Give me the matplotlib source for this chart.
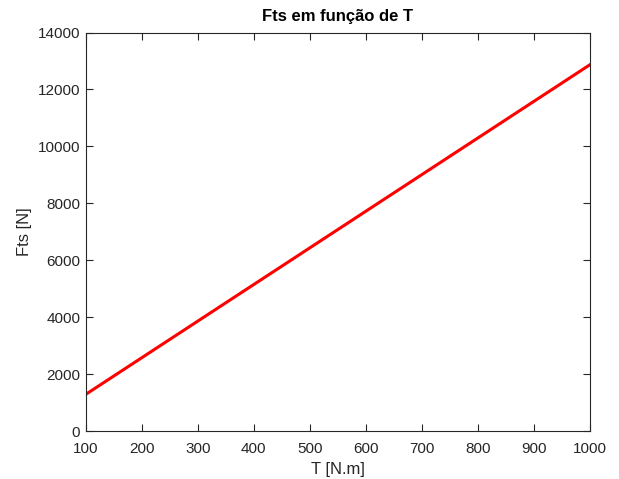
import numpy as np
import matplotlib
matplotlib.use('Agg')
import matplotlib.pyplot as plt

plt.rcParams['font.family'] = ['Liberation Sans', 'DejaVu Sans']

T = [100, 1000]
Fts = [1287, 12870]

fig = plt.figure(figsize=(6.19, 4.79), dpi=100)
ax = fig.add_axes([0.1385, 0.1002, 0.8145, 0.8318])

ax.plot(T, Fts, color='red', lw=2.2)

ax.set_xlim(100, 1000)
ax.set_ylim(0, 14000)
ax.set_xticks(np.arange(100, 1001, 100))
ax.set_yticks(np.arange(0, 14001, 2000))

gray = '#262626'
for s in ax.spines.values():
    s.set_color(gray)
    s.set_linewidth(0.8)
ax.tick_params(direction='in', top=True, right=True, colors=gray,
               labelsize=11, length=5, width=0.8)
ax.tick_params(axis='x', pad=8)
ax.tick_params(axis='y', pad=4)

ax.set_xlabel('T [N.m]', fontsize=12, color=gray, labelpad=4)
ax.set_ylabel('Fts [N]', fontsize=12, color=gray, labelpad=4)
ax.set_title('Fts em função de T', fontsize=12, fontweight='bold',
             color='black', pad=8)

fig.savefig('out.png', dpi=100)
